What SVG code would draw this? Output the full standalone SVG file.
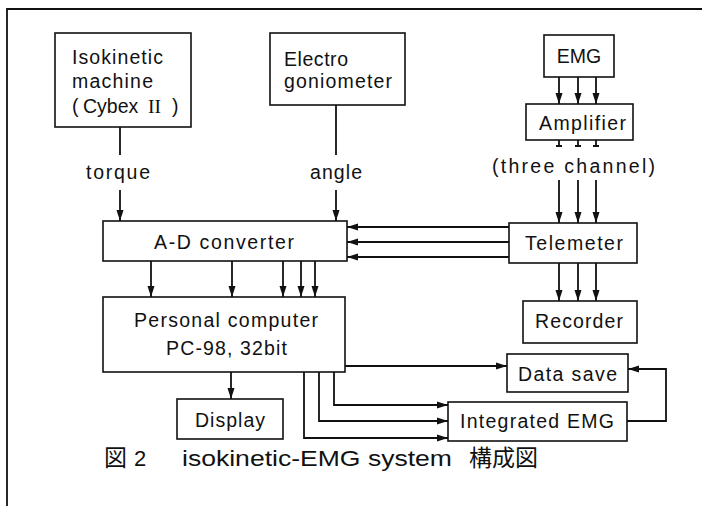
<svg xmlns="http://www.w3.org/2000/svg" width="702" height="506" viewBox="0 0 702 506">
<style>
.box{fill:#fff;stroke:#111;stroke-width:1.6}
.ln{fill:none;stroke:#111;stroke-width:1.8}
.ar{fill:none;stroke:#111;stroke-width:1.8;marker-end:url(#ah)}
text{font-family:"Liberation Sans","Noto Sans",Arial,sans-serif;font-size:19.5px;fill:#111}
.cap{font-size:21px}
.cjk{font-family:"Noto Sans CJK JP","Noto Sans CJK SC",sans-serif;font-size:23px}
</style>
<defs>
<marker id="ah" markerUnits="userSpaceOnUse" markerWidth="12" markerHeight="8" refX="11" refY="4" orient="auto">
<path d="M0,0.5 L11,4 L0,7.5 z" fill="#111"/>
</marker>
</defs>
<rect width="702" height="506" fill="#fff"/>
<g id="frame">
<path class="ln" d="M7,506 V9 H702" stroke-width="1.4"/>
</g>
<g id="isokinetic">
<rect class="box" x="55" y="33" width="136" height="94"/>
<text x="72" y="64" textLength="91" lengthAdjust="spacing">Isokinetic</text>
<text x="72" y="88" textLength="81" lengthAdjust="spacing">machine</text>
<text y="113"><tspan x="72">(</tspan><tspan x="83">Cybex</tspan><tspan x="148" font-family="Liberation Serif">II</tspan><tspan x="172">)</tspan></text>
</g>
<g id="goniometer">
<rect class="box" x="270" y="33" width="135" height="72"/>
<text x="284" y="66" textLength="64" lengthAdjust="spacing">Electro</text>
<text x="284" y="88" textLength="108" lengthAdjust="spacing">goniometer</text>
</g>
<g id="emg">
<rect class="box" x="544" y="35" width="70" height="42"/>
<text x="579" y="63" text-anchor="middle">EMG</text>
</g>
<g id="amplifier">
<rect class="box" x="526" y="104" width="107" height="36"/>
<text x="539" y="130" textLength="87" lengthAdjust="spacing">Amplifier</text>
</g>
<g id="telemeter">
<rect class="box" x="509" y="223" width="128" height="40"/>
<text x="525" y="250" textLength="98" lengthAdjust="spacing">Telemeter</text>
</g>
<g id="recorder">
<rect class="box" x="523" y="301" width="114" height="42"/>
<text x="535" y="328" textLength="88" lengthAdjust="spacing">Recorder</text>
</g>
<g id="adconverter">
<rect class="box" x="103" y="221" width="244" height="40"/>
<text x="154" y="249" textLength="140" lengthAdjust="spacing">A-D converter</text>
</g>
<g id="pc">
<rect class="box" x="103" y="297" width="242" height="75"/>
<text x="134" y="327" textLength="184" lengthAdjust="spacing">Personal computer</text>
<text x="166" y="355" textLength="121" lengthAdjust="spacing">PC-98, 32bit</text>
</g>
<g id="display">
<rect class="box" x="177" y="399" width="106" height="40"/>
<text x="195" y="427" textLength="70" lengthAdjust="spacing">Display</text>
</g>
<g id="datasave">
<rect class="box" x="507" y="354" width="121" height="38"/>
<text x="518" y="381" textLength="99" lengthAdjust="spacing">Data save</text>
</g>
<g id="iemg">
<rect class="box" x="448" y="402" width="179" height="39"/>
<text x="460" y="428" textLength="154" lengthAdjust="spacing">Integrated EMG</text>
</g>
<g id="labels">
<text x="86" y="179" textLength="64" lengthAdjust="spacing">torque</text>
<text x="310" y="179" textLength="52" lengthAdjust="spacing">angle</text>
<text x="492" y="173" textLength="163" lengthAdjust="spacing">(three channel)</text>
</g>
<g id="connectors">
<path class="ln" d="M120,127 V155"/>
<path class="ar" d="M120,190 V221"/>
<path class="ln" d="M336,105 V155"/>
<path class="ar" d="M336,190 V221"/>
<path class="ar" d="M559,77 V104"/>
<path class="ar" d="M578,77 V104"/>
<path class="ar" d="M596,77 V104"/>
<path class="ln" d="M559,140 V146 M556,146 H562 M578,140 V146 M575,146 H581 M596,140 V146 M593,146 H599" stroke-width="1.4"/>
<path class="ar" d="M559,180 V223"/>
<path class="ar" d="M578,180 V223"/>
<path class="ar" d="M596,180 V223"/>
<path class="ar" d="M509,227 H347"/>
<path class="ar" d="M509,242 H347"/>
<path class="ar" d="M509,257 H347"/>
<path class="ar" d="M559,263 V301"/>
<path class="ar" d="M578,263 V301"/>
<path class="ar" d="M596,263 V301"/>
<path class="ar" d="M151,261 V297"/>
<path class="ar" d="M232,261 V297"/>
<path class="ar" d="M283,261 V297"/>
<path class="ar" d="M301,261 V297"/>
<path class="ar" d="M315,261 V297"/>
<path class="ar" d="M231,372 V399"/>
<path class="ar" d="M345,366 H507"/>
<path class="ar" d="M334,372 V405 H448"/>
<path class="ar" d="M319,372 V421 H448"/>
<path class="ar" d="M304,372 V438 H448"/>
<path class="ar" d="M627,421 H666 V369 H628"/>
</g>
<g id="caption">
<text class="cap" y="466"><tspan class="cjk" x="104">図</tspan><tspan x="134" font-size="22">2</tspan><tspan x="182" font-size="22" textLength="270" lengthAdjust="spacingAndGlyphs">isokinetic-EMG system</tspan><tspan class="cjk" x="469">構成図</tspan></text>
</g>
</svg>
